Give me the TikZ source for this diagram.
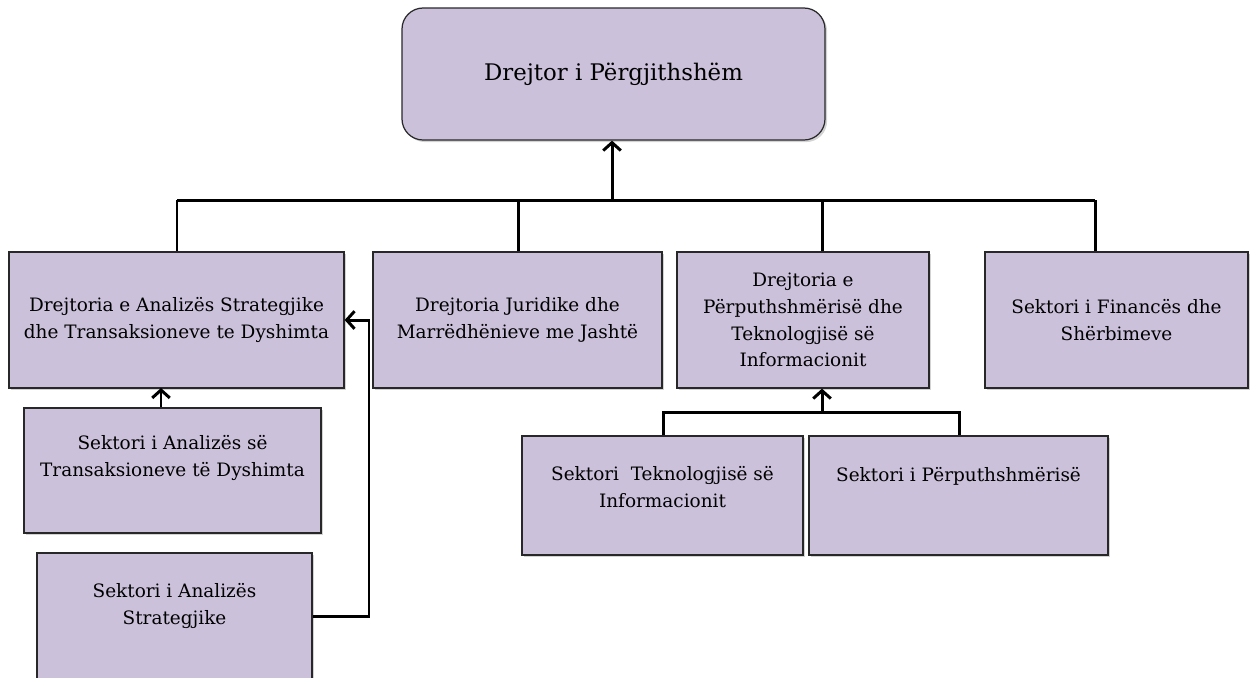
\documentclass[tikz,border=0pt]{standalone}
\usepackage{fontspec}
\setmainfont{DejaVu Serif}
\usetikzlibrary{arrows.meta,shadows}
\definecolor{boxfill}{RGB}{203,193,219}
\definecolor{boxline}{RGB}{40,40,40}
\tikzset{
  orgbox/.style={draw=boxline, line width=0.7pt, fill=boxfill, align=center,
    drop shadow={shadow xshift=1.2pt, shadow yshift=-1.2pt, opacity=0.35},
    font=\fontsize{10.5}{15.3}\selectfont, inner sep=2pt},
  conn/.style={line width=1.7pt, black},
  arr/.style={conn, -{Straight Barb[length=4.5pt,width=10pt,line width=1.7pt]}}
}
\begin{document}
\begin{tikzpicture}[x=0.02cm,y=-0.02cm]
\useasboundingbox (0,0) rectangle (1250,677);
\clip (0,0) rectangle (1250,677);
% top
\node[orgbox, rounded corners=12pt, minimum width=423*0.02cm, minimum height=132*0.02cm,
  font=\fontsize{13}{16}\selectfont] (top) at (613.5,74) {Drejtor i Përgjithshëm};
% level 2
\node[orgbox, minimum width=335*0.02cm, minimum height=136*0.02cm] (d1) at (176.5,320)
  {Drejtoria e Analizës Strategjike\\dhe Transaksioneve te Dyshimta};
\node[orgbox, minimum width=289*0.02cm, minimum height=136*0.02cm] (d2) at (517.5,320)
  {Drejtoria Juridike dhe\\Marrëdhënieve me Jashtë};
\node[orgbox, minimum width=252*0.02cm, minimum height=136*0.02cm] (d3) at (803,320)
  {Drejtoria e\\Përputhshmërisë dhe\\Teknologjisë së\\Informacionit};
\node[orgbox, minimum width=263*0.02cm, minimum height=136*0.02cm] (d4) at (1116.5,320)
  {Sektori i Financës dhe\\Shërbimeve};
% sectors
\node[orgbox, minimum width=297*0.02cm, minimum height=125*0.02cm, text depth=17pt] (s5) at (172.5,470.5)
  {Sektori i Analizës së\\Transaksioneve të Dyshimta};
\node[orgbox, minimum width=275*0.02cm, minimum height=128*0.02cm, text depth=15pt] (s6) at (174.5,617)
  {Sektori i Analizës\\Strategjike};
\node[orgbox, minimum width=281*0.02cm, minimum height=119*0.02cm, text depth=10pt] (s7) at (662.5,495.5)
  {Sektori~ Teknologjisë së\\Informacionit};
\node[orgbox, minimum width=299*0.02cm, minimum height=119*0.02cm, text depth=24pt] (s8) at (958.5,495.5)
  {Sektori i Përputhshmërisë};
% coordinates
\coordinate (bus) at (612,200);
\coordinate (b1) at (177,200);
\coordinate (b2) at (518,200);
\coordinate (b3) at (822,200);
\coordinate (b4) at (1095,200);
\coordinate (br) at (822,412);
\coordinate (br7) at (663,412);
\coordinate (br8) at (959,412);
\coordinate (up5) at (161,388);
\coordinate (cx) at (369,616);
% connectors
\draw[conn] (b1) -- (b4);
\draw[arr] (bus) -- (bus |- top.south);
\draw[conn] (b1) -- (b1 |- d1.north);
\draw[conn] (b2) -- (b2 |- d2.north);
\draw[conn] (b3) -- (b3 |- d3.north);
\draw[conn] (b4) -- (b4 |- d4.north);
\draw[arr] (up5 |- s5.north) -- (up5);
\draw[conn] (br7 |- s7.north) -- (br7) -- (br8) -- (br8 |- s8.north);
\draw[arr] (br) -- (br |- d3.south);
\draw[arr] (s6.east |- cx) -- (cx) -- (cx |- d1.east) -- (d1.east);
\end{tikzpicture}
\end{document}
